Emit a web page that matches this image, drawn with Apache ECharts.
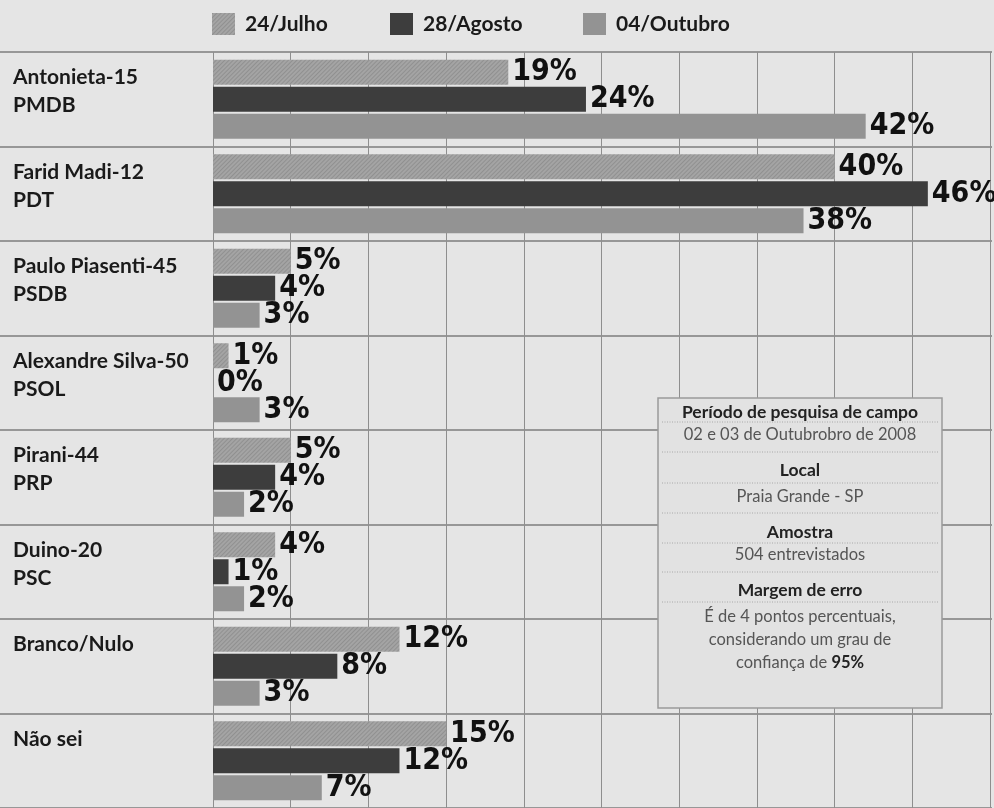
<!DOCTYPE html>
<html><head><meta charset="utf-8">
<script src="https://cdn.jsdelivr.net/npm/echarts@6/dist/echarts.min.js"></script>
<style>html,body{margin:0;padding:0;background:#e5e5e5}#c{width:994px;height:808px}</style>
</head><body><div id="c"></div>
<script>
// ---- data ----
const candidates = ['Antonieta-15', 'Farid Madi-12', 'Paulo Piasenti-45', 'Alexandre Silva-50', 'Pirani-44', 'Duino-20', 'Branco/Nulo', 'Não sei'];
const parties = ['PMDB', 'PDT', 'PSDB', 'PSOL', 'PRP', 'PSC', '', ''];
const seriesNames = ['24/Julho', '28/Agosto', '04/Outubro'];
const julho = [19, 40, 5, 1, 5, 4, 12, 15];
const agosto = [24, 46, 4, 0, 4, 1, 8, 12];
const outubro = [42, 38, 3, 3, 2, 2, 3, 7];
const infoTitles = ['Período de pesquisa de campo', 'Local', 'Amostra', 'Margem de erro'];
const infoTexts = ['02 e 03 de Outubrobro de 2008', 'Praia Grande - SP', '504 entrevistados', 'É de 4 pontos percentuais,\nconsiderando um grau de\nconfiança de {b|95%}'];

// ---- styles ----
const colors = ['#a4a4a4', '#3d3d3d', '#939393'];
const valueFont = "'DejaVu Sans Condensed', 'DejaVu Sans', sans-serif";
const labelFont = "Lato, 'Open Sans', sans-serif";

const chart = echarts.init(document.getElementById('c'), null, {renderer: 'canvas'});

function makeSeries(name, data, color, withDecal) {
  const s = {
    type: 'bar', name: name, data: data, xAxisIndex: 0, yAxisIndex: 0,
    barWidth: 25, barGap: '8%',
    itemStyle: {color: color},
    label: {
      show: true, position: 'right', distance: 4, formatter: '{c}%',
      fontFamily: valueFont, fontWeight: 'bold', fontSize: 30, color: '#111'
    },
    z: 3
  };
  if (withDecal) {
    s.itemStyle.decal = {symbol: 'rect', symbolSize: 1, dashArrayX: [1, 0], dashArrayY: [1, 2], rotation: -Math.PI / 4, color: 'rgba(0,0,0,0.12)'};
  }
  return s;
}

function legendAt(name, left) {
  return {
    data: [name], left: left, top: 13, padding: 0, icon: 'rect',
    itemWidth: 23, itemHeight: 22,
    textStyle: {fontFamily: labelFont, fontWeight: 'bold', fontSize: 21, color: '#1a1a1a', padding: [0, 0, 0, 5]}
  };
}

// info box (annotation)
const bx = 658, by = 398, bw = 284, bh = 310;
const titleY = [14, 72, 134, 192];
const textY = [37, 99, 157, 242];
const sepY = [24, 54, 85, 115, 145, 174, 204];
const boxChildren = [
  {type: 'rect', z: 100, shape: {x: 0, y: 0, width: bw, height: bh}, style: {fill: '#e2e2e2', stroke: '#9a9a9a', lineWidth: 1.5}}
];
sepY.forEach(function (y) {
  boxChildren.push({type: 'line', z: 101, shape: {x1: 4, y1: y, x2: bw - 4, y2: y}, style: {stroke: '#a8a8a8', lineWidth: 1, lineDash: [1, 1.5]}});
});
infoTitles.forEach(function (t, i) {
  boxChildren.push({type: 'text', z: 102, x: bw / 2, y: titleY[i], style: {text: t, fontFamily: labelFont, fontWeight: 'bold', fontSize: 17.5, fill: '#222', align: 'center', verticalAlign: 'middle'}});
});
infoTexts.forEach(function (t, i) {
  boxChildren.push({type: 'text', z: 102, x: bw / 2, y: textY[i], style: {
    text: t, fontFamily: labelFont, fontSize: 16.5, fill: '#555', align: 'center', verticalAlign: 'middle', lineHeight: 23,
    rich: {b: {fontFamily: labelFont, fontWeight: 'bold', fontSize: 16.5, fill: '#222'}}
  }});
});

const option = {
  backgroundColor: '#e5e5e5',
  animation: false,
  legend: [legendAt(seriesNames[0], 212), legendAt(seriesNames[1], 390), legendAt(seriesNames[2], 583)],
  grid: [
    {left: 213, right: 4, top: 52, bottom: 0},
    {left: 0, right: 2, top: 52, bottom: 0}
  ],
  xAxis: [
    {gridIndex: 0, type: 'value', min: 0, max: 50, interval: 5,
      axisLabel: {show: false}, axisLine: {show: false}, axisTick: {show: false},
      splitLine: {show: true, lineStyle: {color: '#8e8e8e', width: 1}}},
    {gridIndex: 1, type: 'value', min: 0, max: 1, show: false}
  ],
  yAxis: [
    {gridIndex: 0, type: 'category', data: candidates, inverse: true,
      axisLine: {show: false}, axisTick: {show: false}, splitLine: {show: false},
      axisLabel: {
        align: 'left', margin: 200, verticalAlign: 'middle',
        formatter: function (v, i) { return '{a|' + v + '}\n{a|' + (parties[i] || ' ') + '}\n{s| }'; },
        rich: {
          a: {fontFamily: labelFont, fontWeight: 'bold', fontSize: 21, color: '#1a1a1a', lineHeight: 28},
          s: {fontSize: 2, lineHeight: 16}
        }
      }},
    {gridIndex: 1, type: 'category', data: candidates, inverse: true,
      axisLine: {show: false}, axisTick: {show: false}, axisLabel: {show: false},
      splitLine: {show: true, lineStyle: {color: '#7c7c7c', width: 1.5}}}
  ],
  series: [
    makeSeries(seriesNames[0], julho, colors[0], true),
    makeSeries(seriesNames[1], agosto, colors[1], false),
    makeSeries(seriesNames[2], outubro, colors[2], false)
  ],
  graphic: [{type: 'group', x: bx, y: by, z: 100, children: boxChildren}]
};
chart.setOption(option);
</script>
</body></html>
